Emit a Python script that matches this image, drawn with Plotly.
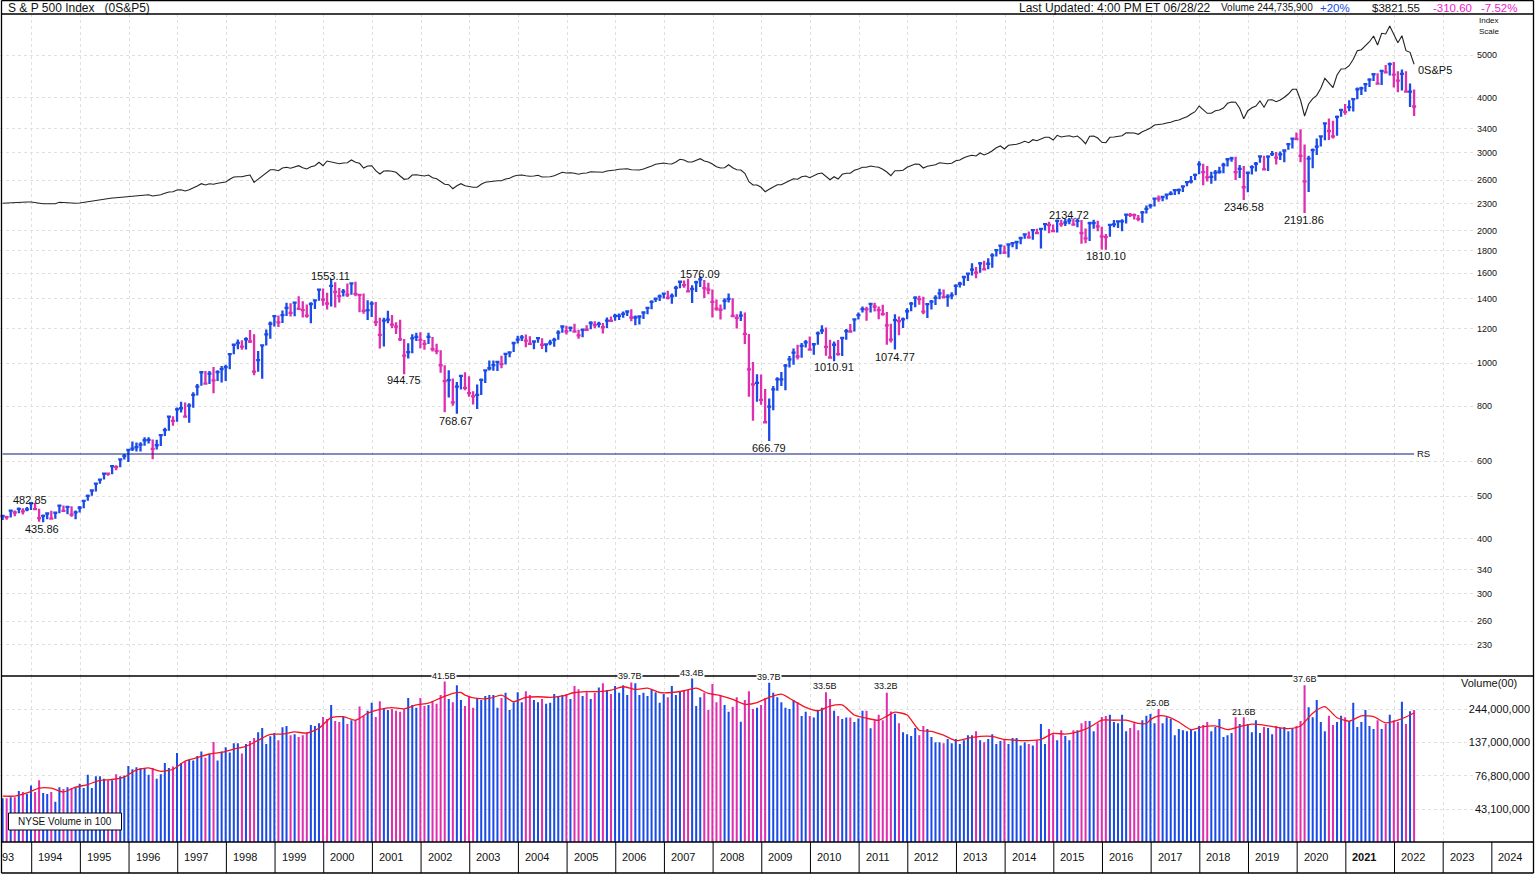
import plotly.graph_objects as go

W, H = 1535, 874
BLUE = "#1a4be6"
MAGENTA = "#de2fae"
GRID = "#e0e0e0"
DASH = "3px,3px"

# months counted from Jan 1994, the chart starts at Jun 1993
months = list(range(-7, 342))

close = [
    450.53, 448.13, 463.56, 458.93, 467.83, 461.79, 466.45,
    481.61, 467.14, 445.77, 450.91, 456.50, 444.27, 458.26, 475.49, 462.69, 472.35, 453.69, 459.27,
    470.42, 487.39, 500.71, 514.71, 533.40, 544.75, 562.06, 561.88, 584.41, 581.50, 605.37, 615.93,
    636.02, 640.43, 645.50, 654.17, 669.12, 670.63, 639.95, 651.99, 687.31, 705.27, 757.02, 740.74,
    786.16, 790.82, 757.12, 801.34, 848.28, 885.14, 954.31, 899.47, 947.28, 914.62, 955.40, 970.43,
    980.28, 1049.34, 1101.75, 1111.75, 1090.82, 1133.84, 1120.67, 957.28, 1017.01, 1098.67, 1163.63, 1229.23,
    1279.64, 1238.33, 1286.37, 1335.18, 1301.84, 1372.71, 1328.72, 1320.41, 1282.71, 1362.93, 1388.91, 1469.25,
    1394.46, 1366.42, 1498.58, 1452.43, 1420.60, 1454.60, 1430.83, 1517.68, 1436.51, 1429.40, 1314.95, 1320.28,
    1366.01, 1239.94, 1160.33, 1249.46, 1255.82, 1224.38, 1211.23, 1133.58, 1040.94, 1059.78, 1139.45, 1148.08,
    1130.20, 1106.73, 1147.39, 1076.92, 1067.14, 989.82, 911.62, 916.07, 815.28, 885.76, 936.31, 879.82,
    855.70, 841.15, 848.18, 916.92, 963.59, 974.50, 990.31, 1008.01, 995.97, 1050.71, 1058.20, 1111.92,
    1131.13, 1144.94, 1126.21, 1107.30, 1120.68, 1140.84, 1101.72, 1104.24, 1114.58, 1130.20, 1173.82, 1211.92,
    1181.27, 1203.60, 1180.59, 1156.85, 1191.50, 1191.33, 1234.18, 1220.33, 1228.81, 1207.01, 1249.48, 1248.29,
    1280.08, 1280.66, 1294.87, 1310.61, 1270.09, 1270.20, 1276.66, 1303.82, 1335.85, 1377.94, 1400.63, 1418.30,
    1438.24, 1406.82, 1420.86, 1482.37, 1530.62, 1503.35, 1455.27, 1473.99, 1526.75, 1549.38, 1481.14, 1468.36,
    1378.55, 1330.63, 1322.70, 1385.59, 1400.38, 1280.00, 1267.38, 1282.83, 1166.36, 968.75, 896.24, 903.25,
    825.88, 735.09, 797.87, 872.81, 919.14, 919.32, 987.48, 1020.62, 1057.08, 1036.19, 1095.63, 1115.10,
    1073.87, 1104.49, 1169.43, 1186.69, 1089.41, 1030.71, 1101.60, 1049.33, 1141.20, 1183.26, 1180.55, 1257.64,
    1286.12, 1327.22, 1325.83, 1363.61, 1345.20, 1320.64, 1292.28, 1218.89, 1131.42, 1253.30, 1246.96, 1257.60,
    1312.41, 1365.68, 1408.47, 1397.91, 1310.33, 1362.16, 1379.32, 1406.58, 1440.67, 1412.16, 1416.18, 1426.19,
    1498.11, 1514.68, 1569.19, 1597.57, 1630.74, 1606.28, 1685.73, 1632.97, 1681.55, 1756.54, 1805.81, 1848.36,
    1782.59, 1859.45, 1872.34, 1883.95, 1923.57, 1960.23, 1930.67, 2003.37, 1972.29, 2018.05, 2067.56, 2058.90,
    1994.99, 2104.50, 2067.89, 2085.51, 2107.39, 2063.11, 2103.84, 1972.18, 1920.03, 2079.36, 2080.41, 2043.94,
    1940.24, 1932.23, 2059.74, 2065.30, 2096.95, 2098.86, 2173.60, 2170.95, 2168.27, 2126.15, 2198.81, 2238.83,
    2278.87, 2363.64, 2362.72, 2384.20, 2411.80, 2423.41, 2470.30, 2471.65, 2519.36, 2575.26, 2584.84, 2673.61,
    2823.81, 2713.83, 2640.87, 2648.05, 2705.27, 2718.37, 2816.29, 2901.52, 2913.98, 2711.74, 2760.17, 2506.85,
    2704.10, 2784.49, 2834.40, 2945.83, 2752.06, 2941.76, 2980.38, 2926.46, 2976.74, 3037.56, 3140.98, 3230.78,
    3225.52, 2954.22, 2584.59, 2912.43, 3044.31, 3100.29, 3271.12, 3500.31, 3363.00, 3269.96, 3621.63, 3756.07,
    3714.24, 3811.15, 3972.89, 4181.17, 4204.11, 4297.50, 4395.26, 4522.68, 4307.54, 4605.38, 4567.00, 4766.18,
    4515.55, 4373.94, 4530.41, 4131.93, 4132.15, 3821.55,
]
high = [
    453, 451, 464, 464, 471, 469, 472,
    482, 482.85, 468, 454, 458, 463, 460, 477, 476, 474, 474, 464,
    475, 489, 504, 516, 535, 547, 564, 565, 586, 587, 608, 623,
    639, 665, 661, 662, 680, 680, 672, 671, 690, 714, 758, 758,
    794, 818, 815, 812, 860, 898, 957, 960, 960, 981, 964, 986,
    992, 1052, 1106, 1133, 1128, 1146, 1190, 1164, 1066, 1104, 1193, 1244,
    1285, 1283, 1317, 1372, 1368, 1380, 1419, 1382, 1360, 1375, 1397, 1473,
    1478, 1445, 1553.11, 1527, 1481, 1474, 1517, 1525, 1531, 1437, 1440, 1390,
    1383, 1377, 1268, 1269, 1316, 1287, 1239, 1255, 1135, 1111, 1164, 1173,
    1176, 1130, 1173, 1147, 1107, 1070, 990, 965, 924, 907, 941, 954,
    935, 864, 895, 924, 965, 1015, 1015, 1011, 1040, 1053, 1063, 1112,
    1155, 1159, 1163, 1151, 1128, 1146, 1140, 1109, 1131, 1142, 1188, 1217,
    1217, 1212, 1229, 1192, 1199, 1219, 1245, 1245, 1243, 1234, 1270, 1276,
    1295, 1297, 1310, 1318, 1326, 1284, 1280, 1306, 1340, 1389, 1407, 1432,
    1441, 1461, 1439, 1499, 1535, 1540, 1555, 1503, 1538, 1576.09, 1545, 1523,
    1471, 1396, 1359, 1404, 1440, 1405, 1292, 1313, 1304, 1166, 1007, 944,
    943, 875, 832, 888, 930, 956, 997, 1039, 1080, 1101, 1112, 1130,
    1150, 1112, 1180, 1219, 1206, 1131, 1120, 1129, 1148, 1196, 1227, 1262,
    1303, 1345, 1344, 1368, 1371, 1346, 1357, 1307, 1229, 1292, 1277, 1270,
    1333, 1378, 1419, 1422, 1416, 1364, 1392, 1426, 1475, 1471, 1435, 1449,
    1510, 1530, 1570, 1598, 1687, 1654, 1698, 1709, 1730, 1776, 1814, 1849,
    1850, 1867, 1883, 1897, 1924, 1968, 1991, 2006, 2019, 2018, 2076, 2093,
    2064, 2120, 2117, 2125, 2134.72, 2130, 2133, 2113, 2021, 2094, 2117, 2104,
    2039, 1963, 2072, 2112, 2104, 2121, 2178, 2193, 2187, 2169, 2214, 2278,
    2301, 2371, 2401, 2399, 2418, 2454, 2484, 2491, 2519, 2582, 2658, 2694,
    2873, 2835, 2801, 2718, 2742, 2791, 2848, 2917, 2941, 2940, 2815, 2800,
    2708, 2813, 2861, 2949, 2954, 2964, 3028, 3014, 3022, 3050, 3154, 3248,
    3337, 3394, 3136, 2955, 3068, 3233, 3280, 3515, 3588, 3549, 3646, 3760,
    3870, 3950, 3994, 4218, 4238, 4302, 4429, 4546, 4546, 4608, 4744, 4809,
    4819, 4595, 4637, 4594, 4308, 4177,
]
low = [
    441, 442, 447, 450, 457, 454, 462,
    465, 465, 437, 435.86, 443, 443, 444, 457, 461, 455, 449, 443,
    459, 469, 488, 501, 512, 533, 545, 556, 560, 572, 581, 605,
    597, 633, 631, 631, 650, 658, 606, 638, 649, 684, 703, 722,
    737, 773, 756, 733, 793, 845, 889, 898, 898, 855, 912, 905,
    912, 969, 1049, 1076, 1074, 1075, 1112, 939, 957, 923, 1098, 1137,
    1212, 1208, 1234, 1280, 1277, 1278, 1327, 1270, 1269, 1233, 1327, 1387,
    1350, 1325, 1346, 1339, 1373, 1417, 1413, 1431, 1419, 1305, 1295, 1254,
    1274, 1215, 1081, 1091, 1232, 1203, 1165, 1124, 944.75, 1026, 1054, 1124,
    1081, 1074, 1106, 1063, 1048, 952, 775, 837, 801, 768.67, 872, 869,
    840, 806, 788, 847, 902, 963, 962, 960, 975, 994, 1032, 1061,
    1109, 1124, 1088, 1107, 1076, 1113, 1078, 1060, 1099, 1090, 1131, 1173,
    1163, 1181, 1176, 1137, 1146, 1191, 1194, 1201, 1205, 1168, 1202, 1246,
    1248, 1253, 1268, 1280, 1245, 1219, 1224, 1261, 1292, 1326, 1378, 1385,
    1403, 1396, 1364, 1416, 1480, 1484, 1448, 1370, 1451, 1489, 1407, 1435,
    1270, 1316, 1257, 1325, 1373, 1272, 1200, 1247, 1106, 840, 741, 818,
    805, 734, 666.79, 783, 866, 888, 869, 978, 992, 1020, 1030, 1086,
    1071, 1045, 1101, 1166, 1040, 1028, 1010.91, 1040, 1039, 1131, 1174, 1180,
    1257, 1303, 1249, 1303, 1311, 1258, 1282, 1102, 1114, 1074.77, 1158, 1203,
    1258, 1312, 1340, 1358, 1292, 1267, 1325, 1355, 1397, 1403, 1343, 1398,
    1426, 1485, 1500, 1537, 1581, 1560, 1605, 1627, 1633, 1646, 1747, 1768,
    1770, 1738, 1834, 1814, 1863, 1915, 1916, 1905, 1965, 1821, 2001, 1973,
    1988, 1980, 2039, 2049, 2067, 2057, 2034, 1867, 1872, 1893, 2019, 1993,
    1812, 1810.10, 1937, 2034, 2026, 1992, 2074, 2147, 2119, 2098, 2083, 2187,
    2245, 2267, 2323, 2329, 2352, 2405, 2407, 2418, 2446, 2520, 2558, 2605,
    2683, 2533, 2585, 2553, 2594, 2691, 2699, 2795, 2864, 2604, 2631, 2346.58,
    2444, 2681, 2723, 2848, 2750, 2729, 2952, 2822, 2892, 2855, 3050, 3070,
    3214, 2855, 2191.86, 2447, 2767, 2965, 3101, 3205, 3210, 3233, 3280, 3624,
    3663, 3726, 3723, 3967, 4056, 4126, 4233, 4367, 4306, 4278, 4560, 4495,
    4223, 4115, 4157, 4121, 3811, 3637,
]

# relative strength, no printed scale: height units above the pane floor
rs = [
    472.7, 473, 473.3, 473.3, 473.7, 473.7, 474,
    474, 473.3, 472.3, 472.3, 472.3, 472.3, 472.3, 473.7, 473.3, 473, 472.7, 472.7,
    473, 473.7, 474.3, 475, 475.7, 476.3, 477, 477.3, 478, 478.3, 478.7, 479.3,
    480, 480.3, 480.7, 481, 481.3, 481.3, 480, 480.3, 481.3, 482.7, 484, 484.3,
    486, 486.3, 485, 486.3, 488, 490, 492.3, 491, 492.3, 491.7, 492.7, 493,
    494, 496.7, 499, 499.3, 499.3, 500.3, 501, 493.7, 496.7, 500, 503.3, 506.3,
    506.3, 505.3, 508, 508.7, 507.7, 509.3, 510.3, 508.3, 507, 509.3, 510.3, 513.7,
    510.3, 515, 514, 512.7, 512.3, 513, 513.3, 516, 513.7, 512.7, 508, 510,
    510.3, 505.3, 502, 505, 505.3, 504.7, 503.7, 500, 496.7, 497.3, 501, 501.3,
    500.3, 500, 501, 498.3, 497.3, 494.7, 491.7, 491.3, 487.3, 490.3, 492.3, 490.3,
    489.3, 488.7, 488.7, 491.7, 493.7, 494.3, 494.7, 495.3, 495.3, 497, 497.7, 499.7,
    500.7, 501, 500.3, 499.7, 500, 500.7, 499, 499, 499.3, 500.3, 502, 503.7,
    503, 503.3, 502.7, 501.7, 502.7, 503, 504.3, 504, 504.3, 503.7, 505, 505.3,
    506, 506.7, 507, 507.3, 506.3, 506, 506, 507, 508.3, 510, 511.7, 512,
    513, 512.3, 512, 514, 516.7, 516, 514, 514, 516, 517.3, 515, 514,
    512, 509.3, 508, 508.3, 511.3, 508.3, 506.3, 506, 502.7, 494.3, 491, 491,
    488.7, 484.3, 486.7, 489.3, 491.3, 491.3, 493.7, 495.3, 497.3, 496.7, 499.3, 500,
    498.3, 500, 502.3, 503, 499.3, 496.3, 499.3, 497, 501.7, 502.7, 502.7, 505.7,
    507, 508.7, 508.7, 510, 509.3, 508.7, 506.7, 504, 500.3, 505.3, 505.3, 505.7,
    508.7, 510.7, 512, 511.7, 508, 509.7, 510.7, 511.3, 513.3, 512.7, 512.3, 512.7,
    515.3, 516, 518.3, 519.7, 520.7, 520, 523, 521, 522.7, 525.3, 528.3, 530,
    527, 530.7, 531, 531.7, 533, 534.7, 533.3, 536.3, 535.3, 536.7, 538.7, 538.7,
    536, 540.7, 539, 539.7, 540.3, 539, 540, 536.7, 532.3, 539.7, 540, 538,
    533.7, 533.3, 538.7, 539, 540, 540.3, 543.3, 543.3, 543, 541.7, 544.3, 546,
    548, 551, 551.3, 552, 553, 553.7, 555.3, 556, 557.7, 559.3, 562, 564.3,
    570, 566.7, 562.7, 562.7, 565.3, 566, 568, 572.7, 574, 573.7, 567.7, 557.3,
    565.3, 568.3, 570, 575, 568.7, 576, 576.3, 574.3, 576, 578.7, 582, 586.7,
    586.7, 576, 560, 572, 577.3, 580.7, 587.7, 597.7, 592.7, 588.3, 601, 607,
    607.3, 610.3, 616.7, 625.3, 626.3, 630, 634.3, 640, 631, 642.7, 642, 650,
    641, 633.3, 640.3, 625.3, 623.7, 611.7,
]
rs_base = [222, 222]
rs_base_months = [-7, 341]

# NYSE volume, in hundreds
volume = [v * 1e6 for v in [
    52, 52, 53, 53, 59, 58, 56,
    65, 58, 71, 57, 56, 58, 49, 63, 61, 63, 62, 63,
    67, 62, 78, 62, 76, 76, 73, 71, 71, 79, 76, 77,
    91, 86, 89, 88, 88, 78, 88, 73, 79, 96, 88, 90,
    114, 96, 98, 102, 100, 108, 117, 105, 112, 138, 100, 117,
    126, 115, 135, 135, 113, 133, 140, 148, 163, 176, 133, 152,
    161, 142, 178, 182, 155, 158, 150, 155, 163, 185, 182, 191,
    213, 205, 262, 198, 195, 213, 188, 201, 201, 255, 216, 237,
    272, 213, 279, 244, 240, 244, 237, 233, 243, 296, 262, 249,
    296, 257, 262, 281, 267, 311, 403, 290, 275, 369, 285, 257,
    306, 249, 296, 285, 306, 311, 311, 249, 296, 323, 240, 275,
    327, 275, 332, 311, 285, 275, 290, 267, 272, 316, 306, 311,
    316, 290, 363, 344, 306, 327, 290, 323, 354, 382, 339, 316,
    363, 323, 369, 311, 387, 382, 311, 323, 306, 344, 327, 272,
    316, 299, 363, 311, 332, 339, 339, 425, 257, 299, 323, 240,
    376, 275, 311, 262, 233, 254, 299, 196, 285, 332, 244, 249,
    262, 296, 387, 323, 299, 275, 249, 244, 285, 275, 216, 233,
    216, 211, 237, 249, 327, 290, 237, 216, 205, 211, 211, 195,
    207, 237, 237, 175, 201, 221, 201, 323, 234, 225, 191, 163,
    158, 153, 176, 155, 182, 173, 150, 137, 137, 135, 145, 135,
    145, 133, 142, 155, 155, 166, 142, 137, 145, 158, 133, 140,
    145, 133, 148, 148, 130, 137, 133, 130, 142, 188, 133, 173,
    158, 142, 169, 153, 142, 169, 169, 191, 198, 198, 166, 191,
    213, 216, 221, 195, 191, 221, 166, 176, 191, 169, 201, 217,
    224, 191, 244, 191, 212, 205, 155, 173, 169, 166, 173, 166,
    182, 185, 195, 166, 179, 205, 150, 155, 161, 212, 188, 212,
    188, 163, 201, 161, 179, 176, 158, 182, 176, 179, 166, 176,
    182, 198, 369, 252, 212, 285, 195, 166, 217, 185, 195, 217,
    212, 198, 272, 179, 195, 240, 182, 173, 201, 173, 188, 221,
    201, 195, 277, 188, 235, 240,
]]

ma_months = [
    -7, -4, -1, 2, 5, 8, 11, 14, 17, 20, 23, 26, 29, 32, 35, 38, 41, 44, 47, 50, 53, 56, 59,
    62, 65, 68, 71, 74, 77, 80, 83, 86, 89, 92, 95, 98, 101, 104, 106, 107, 110, 113, 116, 119,
    122, 125, 128, 131, 134, 137, 140, 143, 146, 149, 152, 155, 158, 161, 164, 167, 170, 173,
    176, 179, 182, 185, 188, 191, 194, 197, 200, 203, 206, 209, 211, 213, 216, 219, 222, 225,
    228, 231, 234, 237, 240, 243, 246, 249, 252, 255, 258, 261, 264, 267, 270, 273, 275, 276,
    278, 280, 283, 286, 289, 292, 295, 298, 301, 304, 307, 310, 313, 316, 319, 322, 325, 328,
    331, 334, 337, 340, 341,
]
ma_values = [v * 1e6 for v in [
    54, 54, 57, 62, 62, 58, 63, 66, 71, 72, 75, 85, 88, 83, 86, 99, 105, 112, 115, 122, 128, 142, 157,
    158, 164, 161, 175, 210, 214, 201, 227, 243, 250, 245, 262, 270, 296, 320, 325, 311, 293, 293, 311, 277,
    299, 302, 299, 306, 325, 330, 330, 339, 359, 343, 350, 325, 325, 335, 350, 320, 308, 288,
    265, 273, 299, 316, 282, 251, 237, 257, 262, 220, 208, 201, 216, 231, 220, 169, 166, 155,
    141, 147, 152, 152, 144, 142, 141, 144, 160, 158, 164, 178, 201, 201, 201, 190, 190, 203,
    217, 215, 195, 171, 180, 182, 171, 180, 188, 185, 178, 174, 182, 227, 254, 210, 198, 217,
    214, 192, 201, 220, 229,
]]

price_ticks = [5000, 4000, 3400, 3000, 2600, 2300, 2000, 1800, 1600, 1400, 1200, 1000, 800, 600, 500, 400, 340, 300, 260, 230]
volume_ticks = [244000000, 137000000, 76800000, 43100000]
year_labels = list(range(1994, 2025))


def px_x(k):
    return 31 + 4.056 * k


def fx(px):
    return px / W


def fy(py):
    return 1 - py / H


def note(text, x, y, size=11, color="#111111", anchor="center", **kw):
    return dict(text=text, x=fx(x), y=fy(y), xref="paper", yref="paper", showarrow=False,
                xanchor=anchor, yanchor="middle", borderpad=0, font=dict(size=size, color=color), **kw)


up = [True] + [close[i] >= close[i - 1] for i in range(1, len(close))]
bar_colors = [BLUE if u else MAGENTA for u in up]
range_x = [-31 / 4.056, (1475 - 31) / 4.056]
year_start = [0.17 + 12 * n for n in range(31)]

fig = go.Figure()

fig.add_trace(go.Scatter(x=months, y=rs, yaxis="y2", mode="lines", line=dict(color="#222222", width=1.1)))
fig.add_trace(go.Scatter(x=rs_base_months, y=rs_base, yaxis="y2", mode="lines", line=dict(color="#0a1a80", width=1.2)))

for flag, color in [(True, BLUE), (False, MAGENTA)]:
    idx = [i for i, u in enumerate(up) if u == flag]
    closes = [close[i] for i in idx]
    # open is set to close so the tick crosses the bar on both sides
    fig.add_trace(go.Ohlc(x=[months[i] for i in idx], open=closes, close=closes,
                          high=[high[i] for i in idx], low=[low[i] for i in idx],
                          tickwidth=0.5,
                          increasing=dict(line=dict(color=color, width=2.3)),
                          decreasing=dict(line=dict(color=color, width=2.3))))

fig.add_trace(go.Bar(x=months, y=volume, xaxis="x2", yaxis="y3", width=0.5,
                     marker=dict(color=bar_colors, line=dict(width=0))))
fig.add_trace(go.Scatter(x=ma_months, y=ma_values, xaxis="x2", yaxis="y3", mode="lines",
                         line=dict(color="#f5141e", width=1.3, shape="spline", smoothing=0.6)))

x_common = dict(domain=[0, 1475 / W], range=range_x, tickmode="array", tickvals=year_start,
                showticklabels=False, ticks="", showgrid=True, gridcolor=GRID, griddash=DASH,
                gridwidth=1, zeroline=False, showline=False)

shapes = []
for x0, y0, x1, y1 in [(1.5, 0.5, 1533.5, 0.5), (1.5, 14, 1533.5, 14), (1.5, 676, 1533.5, 676),
                       (1.5, 842, 1533.5, 842), (1.5, 873, 1533.5, 873),
                       (1.5, 0.5, 1.5, 873), (1533.5, 0.5, 1533.5, 873)]:
    shapes.append(dict(type="line", xref="paper", yref="paper", x0=fx(x0), x1=fx(x1), y0=fy(y0), y1=fy(y1),
                       line=dict(color="#000000", width=1.3)))
for k in year_start:
    shapes.append(dict(type="line", xref="paper", yref="paper", x0=fx(px_x(k)), x1=fx(px_x(k)),
                       y0=fy(842), y1=fy(873), line=dict(color="#000000", width=1)))
shapes.append(dict(type="rect", xref="paper", yref="paper", x0=fx(8.5), x1=fx(121.5), y0=fy(813), y1=fy(830),
                   fillcolor="#ffffff", line=dict(color="#000000", width=1)))

annotations = [
    note("S &amp; P 500 Index   (0S&amp;P5)", 7, 8, 12, anchor="left"),
    note("Last Updated: 4:00 PM ET 06/28/22", 1018, 8, 12, anchor="left"),
    note("Volume 244,735,900", 1220, 8, 10, anchor="left"),
    note("+20%", 1319, 8, 11.5, BLUE, anchor="left"),
    note("$3821.55", 1371, 8, 11.5, anchor="left"),
    note("-310.60", 1432, 8, 11.5, "#ee22cc", anchor="left"),
    note("-7.52%", 1480, 8, 11.5, "#ee22cc", anchor="left"),
    note("Index", 1478, 20, 8, anchor="left"),
    note("Scale", 1478, 32, 8, anchor="left"),
    note("0S&amp;P5", 1416.5, 70, 11, anchor="left"),
    note("RS", 1416, 453, 9.5, anchor="left"),
    note("Volume(00)", 1460, 683, 11, anchor="left"),
    note("NYSE Volume in 100", 65, 821.5, 10),
    note("93", 8, 857, 11),
]
for text, x, y in [("482.85", 30, 500), ("435.86", 42, 529), ("1553.11", 330, 276), ("944.75", 404, 380),
                   ("768.67", 456, 421), ("1576.09", 700, 274), ("666.79", 769, 448), ("1010.91", 834, 367),
                   ("1074.77", 895, 357), ("2134.72", 1069, 215), ("1810.10", 1106, 256),
                   ("2346.58", 1244, 207), ("2191.86", 1304, 220)]:
    annotations.append(note(text, x, y, 11))
for text, x, y in [("41.5B", 444, 676), ("39.7B", 630, 676), ("43.4B", 692, 673), ("39.7B", 769, 677),
                   ("33.5B", 825, 686), ("33.2B", 886, 686), ("25.0B", 1158, 703), ("21.6B", 1244, 712),
                   ("37.6B", 1304.5, 679)]:
    annotations.append(note(text, x, y, 9, bgcolor="#ffffff" if y < 680 else None))
for year, k in zip(year_labels, year_start):
    label = f"<b>{year}</b>" if year == 2021 else str(year)
    annotations.append(note(label, px_x(k) + 18.5, 857, 11))

fig.update_layout(
    width=W, height=H, margin=dict(l=0, r=0, t=0, b=0), autosize=False,
    paper_bgcolor="#ffffff", plot_bgcolor="#ffffff", showlegend=False, hovermode=False,
    font=dict(family="Liberation Sans, Arial, sans-serif", color="#111111"),
    xaxis=dict(anchor="y", rangeslider=dict(visible=False), **x_common),
    xaxis2=dict(anchor="y3", **x_common),
    yaxis=dict(domain=[fy(676), fy(14)], type="log", range=[2.291, 3.792], anchor="free", position=1476 / W,
               side="right", tickmode="array", tickvals=price_ticks, ticktext=[str(t) for t in price_ticks],
               tickfont=dict(size=9), ticks="", showgrid=True, gridcolor=GRID, griddash=DASH, zeroline=False),
    yaxis2=dict(domain=[fy(676), fy(14)], range=[0, 662], overlaying="y", visible=False),
    yaxis3=dict(domain=[fy(842), fy(676)], type="log", range=[7.387, 8.636], anchor="free", position=1530 / W,
                side="left", tickmode="array", tickvals=volume_ticks, ticktext=[f"{t:,}" for t in volume_ticks],
                tickfont=dict(size=11), ticks="", showgrid=True, gridcolor=GRID, griddash=DASH, zeroline=False),
    shapes=shapes, annotations=annotations,
)

fig.write_html("out.html", config=dict(displayModeBar=False),
               post_script="document.body.style.margin='0';document.body.style.overflow='hidden';")
